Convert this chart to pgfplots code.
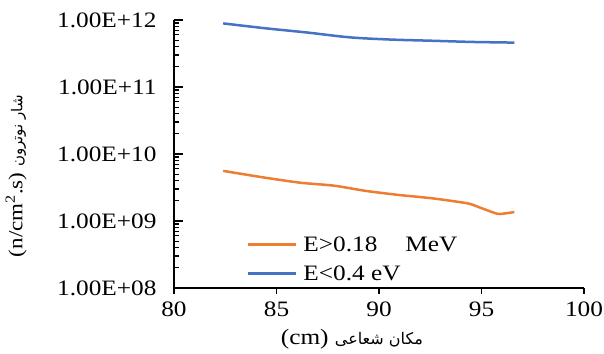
\documentclass[border=0pt]{standalone}
\usepackage{fontspec}
\setmainfont[FakeStretch=1.15]{Liberation Serif}
\newfontfamily\arabicfont[Script=Arabic]{DejaVu Sans}
\TeXXeTstate=1
\usepackage{pgfplots}
\pgfplotsset{compat=1.18}
\definecolor{xlorange}{HTML}{ED7D31}
\definecolor{xlblue}{HTML}{4472C4}
\begin{document}
\begin{tikzpicture}
\useasboundingbox (-174pt,-65pt) rectangle (430pt,288pt);
\begin{axis}[
  at={(0,0)}, anchor=south west,
  scale only axis, width=410pt, height=268pt,
  xmin=80, xmax=100, ymin=1e8, ymax=1e12, ymode=log,
  axis x line*=bottom, axis y line*=left,
  axis line style={line width=1.4pt},
  every tick/.style={black, line width=1.2pt},
  tick align=inside,
  major tick length=9pt, minor tick length=5pt,
  xtick={80,85,90,95,100},
  xtick style={draw=none},
  extra x ticks={80,85,90,95,100},
  extra x tick labels={},
  extra x tick style={tick align=outside, major tick length=6pt, xtick style={draw=black}},
  ytick={1e8,1e9,1e10,1e11,1e12},
  yticklabels={1.00E+08,1.00E+09,1.00E+10,1.00E+11,1.00E+12},
  /pgf/number format/assume math mode=true,
  tick label style={font=\fontsize{22}{26}\selectfont},
  yticklabel style={xshift=-14pt},
  xticklabel style={yshift=-10pt},
  xlabel={\fontsize{22}{26}\selectfont (cm) {\arabicfont\fontsize{16}{20}\selectfont\beginR مکان شعاعی\endR}},
  xlabel style={at={(axis description cs:0.434,-0.19)}, anchor=center},
  ylabel={\fontsize{20}{24}\selectfont (n/cm\textsuperscript{2}.s) {\arabicfont\fontsize{15}{18}\selectfont\beginR شار نوترون\endR}},
  ylabel style={at={(axis description cs:-0.385,0.418)}, anchor=center},
  legend style={at={(axis description cs:0.17,0.208)}, anchor=north west, draw=none, fill=none,
    font=\fontsize{22}{26}\selectfont, row sep=9pt},
  legend cell align=left,
  legend image code/.code={\draw[#1, line width=2.5pt] (0pt,0pt) -- (48pt,0pt);},
]
\addplot[xlorange, line width=2.5pt, smooth, tension=0.4] coordinates {
(82.4,5.6e9) (84.3,4.5e9) (86.15,3.73e9) (87.8,3.37e9) (89.4,2.8e9) (91.0,2.44e9)
(92.6,2.18e9) (94.3,1.84e9) (94.8,1.64e9) (95.6,1.33e9) (95.9,1.27e9) (96.6,1.36e9)};
\addlegendentry{\hspace{4pt}E>0.18\hspace{28pt}MeV}
\addplot[xlblue, line width=2.5pt, smooth] coordinates {
(82.4,8.9e11) (84.5,7.5e11) (86.5,6.5e11) (88.6,5.5e11) (90.6,5.1e11)
(92.6,4.9e11) (94.6,4.7e11) (96.6,4.6e11)};
\addlegendentry{\hspace{4pt}E<0.4 eV}
\end{axis}
\end{tikzpicture}
\end{document}
